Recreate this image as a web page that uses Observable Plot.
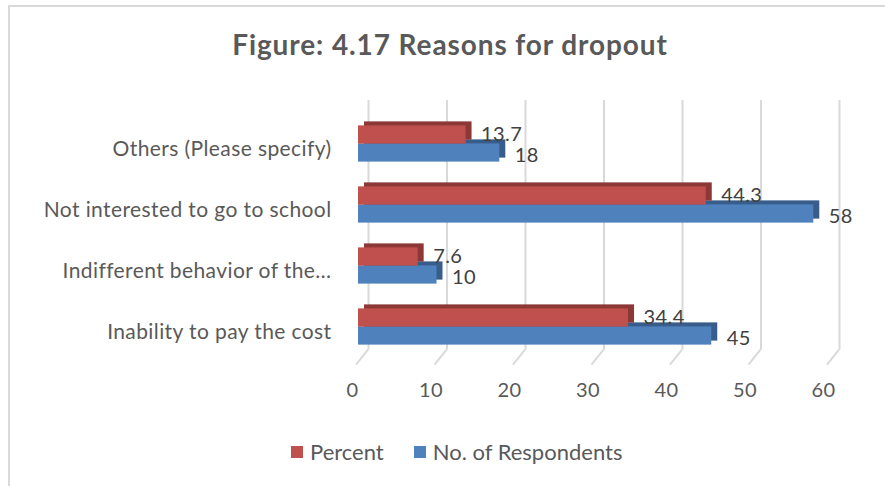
<!DOCTYPE html>
<html>
<head>
<meta charset="utf-8">
<script src="https://cdn.jsdelivr.net/npm/d3@7"></script>
<script src="https://cdn.jsdelivr.net/npm/@observablehq/plot@0.6"></script>
<style>
  html, body { margin: 0; padding: 0; background: #fff; }
  #wrap { position: relative; width: 885px; height: 486px; overflow: hidden; font-family: Lato, "Open Sans", sans-serif; color: #595959; }
  #frame { position: absolute; left: 8px; top: 5px; width: 900px; height: 500px; border-left: 2px solid #d9d9d9; border-top: 2px solid #d9d9d9; box-sizing: border-box; }
  #title { position: absolute; left: 0; width: 900px; top: 27px; text-align: center; font-weight: bold; font-size: 28px; letter-spacing: 0.9px; color: #595959; }
  #chart { position: absolute; left: 0; top: 85px; }
  #legend { position: absolute; top: 438px; left: 291px; font-size: 22px; display: flex; align-items: center; }
  .sw { display: inline-block; width: 12px; height: 12px; margin-right: 7px; }
</style>
</head>
<body>
<div id="wrap">
  <div id="frame"></div>
  <div id="title">Figure: 4.17 Reasons for dropout</div>
  <div id="chart"></div>
  <div id="legend">
    <span class="sw" style="background:#C0504D"></span><span style="margin-right:30px">Percent</span>
    <span class="sw" style="background:#4F81BD"></span><span>No. of Respondents</span>
  </div>
</div>
<script>
const categories = [
  "Others (Please specify)",
  "Not interested to go to school",
  "Indifferent behavior of the…",
  "Inability to pay the cost"
];
const percent = [13.7, 44.3, 7.6, 34.4];
const respondents = [18, 58, 10, 45];
const xTicks = [0, 10, 20, 30, 40, 50, 60];

const pctData = categories.map((c, i) => ({cat: c, v: percent[i]}));
const resData = categories.map((c, i) => ({cat: c, v: respondents[i]}));

const red = "#C0504D", redDark = "#8C3836";
const blue = "#4F81BD", blueDark = "#385D8A";
const depthX = 6, depthY = -4;

const H = 330;
const mt = 15, mb = H - 15 - 269.7;
const step = 269.7 / 4.4;
const bw = step * 0.6;
const inset = (bw - 18) / 2;

const floorLines = Plot.ruleX(xTicks, {
  x: d => d,
  render(index, scales, values, dimensions) {
    const g = d3.create("svg:g");
    const yb = dimensions.height - dimensions.marginBottom - 20;
    for (const i of index) {
      const x = scales.x(xTicks[i]);
      g.append("line")
        .attr("x1", x + 10).attr("y1", yb)
        .attr("x2", x - 2).attr("y2", yb + 15)
        .attr("stroke", "#d9d9d9").attr("stroke-width", 2);
    }
    return g.node();
  }
});

const plot = Plot.plot({
  width: 885,
  height: H,
  marginLeft: 358,
  marginRight: 56,
  marginTop: mt,
  marginBottom: mb,
  style: {fontFamily: "Lato, 'Open Sans', sans-serif", fontSize: "20px", color: "#595959", background: "transparent", letterSpacing: "0.4px"},
  x: {domain: [0, 60], axis: null},
  y: {domain: categories, padding: 0.4, axis: null},
  marks: [
    Plot.ruleX(xTicks, {x: d => d, dx: 10, stroke: "#d9d9d9", strokeWidth: 2, insetBottom: 20}),
    floorLines,
    Plot.barX(resData, {x: "v", y: "cat", fill: blueDark, insetTop: inset, insetBottom: inset, dy: 9 + depthY, dx: depthX}),
    Plot.barX(resData, {x: "v", y: "cat", fill: blue, insetTop: inset, insetBottom: inset, dy: 9}),
    Plot.barX(pctData, {x: "v", y: "cat", fill: redDark, insetTop: inset, insetBottom: inset, dy: -9 + depthY, dx: depthX}),
    Plot.barX(pctData, {x: "v", y: "cat", fill: red, insetTop: inset, insetBottom: inset, dy: -9}),
    Plot.text(pctData, {x: "v", y: "cat", text: d => String(d.v), dx: 15, dy: -9, textAnchor: "start", fill: "#404040", fontSize: 20}),
    Plot.text(resData, {x: "v", y: "cat", text: d => String(d.v), dx: 15, dy: 12, textAnchor: "start", fill: "#404040", fontSize: 20}),
    Plot.axisY({tickSize: 0, tickPadding: 27, dy: 5, fill: "#595959", fontSize: 21, label: null}),
    Plot.axisX(xTicks, {tickSize: 0, tickPadding: 13, dx: -6, fill: "#595959", fontSize: 20, label: null})
  ]
});
document.getElementById("chart").appendChild(plot);
</script>
</body>
</html>
